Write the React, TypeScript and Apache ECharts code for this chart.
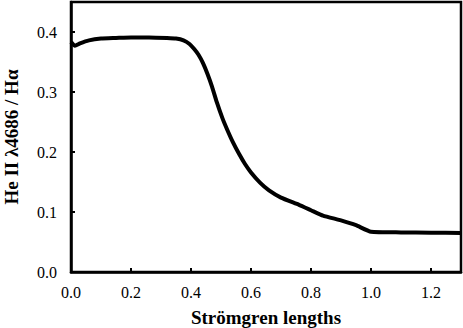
import React, { useEffect, useRef } from "react";
import * as echarts from "echarts";

const xValues = [0, 0.013, 0.03, 0.06, 0.1, 0.15, 0.2, 0.26, 0.32, 0.35, 0.375, 0.395, 0.41, 0.425, 0.44, 0.455, 0.47, 0.486, 0.505, 0.52, 0.54, 0.56, 0.58, 0.6, 0.63, 0.66, 0.7, 0.76, 0.8, 0.84, 0.9, 0.95, 1.0, 1.1, 1.2, 1.3];
const yValues = [0.383, 0.377, 0.381, 0.386, 0.389, 0.39, 0.391, 0.391, 0.39, 0.389, 0.386, 0.38, 0.372, 0.362, 0.348, 0.33, 0.309, 0.283, 0.256, 0.238, 0.216, 0.197, 0.18, 0.166, 0.149, 0.136, 0.124, 0.112, 0.103, 0.094, 0.086, 0.078, 0.067, 0.066, 0.0655, 0.065];

const xName = "Strömgren lengths";
const yName = "He II λ4686 / Hα";

export default function App() {
  const ref = useRef<HTMLDivElement>(null);
  useEffect(() => {
    if (!ref.current) return;
    const chart = echarts.init(ref.current, undefined, { renderer: "svg" });
    const font = "Liberation Serif, serif";
    chart.setOption({
      animation: false,
      textStyle: { fontFamily: font, color: "#000" },
      grid: {
        left: 71,
        right: 2,
        top: 2,
        bottom: 56,
        outerBoundsMode: "none",
        containLabel: false,
        show: true,
        borderColor: "#000",
        borderWidth: 2.5,
      },
      xAxis: {
        type: "value",
        min: 0,
        max: 1.3,
        interval: 0.2,
        name: xName,
        nameLocation: "middle",
        nameGap: 36,
        nameTextStyle: { fontFamily: font, fontWeight: "bold", fontSize: 19, color: "#000" },
        axisLine: { show: true, onZero: false, lineStyle: { color: "#000", width: 2.5 } },
        axisTick: { show: true, inside: true, length: 4, lineStyle: { color: "#000", width: 2 } },
        axisLabel: { fontFamily: font, fontWeight: "normal", fontSize: 16, color: "#000", margin: 12, formatter: (v: number) => v.toFixed(1), showMaxLabel: false },
        splitLine: { show: false },
      },
      yAxis: {
        type: "value",
        min: 0,
        max: 0.45,
        interval: 0.1,
        name: yName,
        nameLocation: "middle",
        nameGap: 50,
        nameTextStyle: { fontFamily: font, fontWeight: "bold", fontSize: 19, color: "#000" },
        axisLine: { show: true, lineStyle: { color: "#000", width: 2.5 } },
        axisTick: { show: true, inside: true, length: 4, lineStyle: { color: "#000", width: 2 } },
        axisLabel: { fontFamily: font, fontWeight: "normal", fontSize: 16, color: "#000", margin: 14, formatter: (v: number) => (v > 0.41 ? "" : v.toFixed(1)) },
        splitLine: { show: false },
      },
      series: [
        {
          type: "line",
          data: xValues.map((x, i) => [x, yValues[i]]),
          showSymbol: false,
          smooth: 0.15,
          lineStyle: { color: "#000", width: 4 },
        },
      ],
    });
    return () => chart.dispose();
  }, []);
  return <div ref={ref} style={{ width: 463, height: 328, position: "absolute", left: 0, top: 0 }} />;
}
